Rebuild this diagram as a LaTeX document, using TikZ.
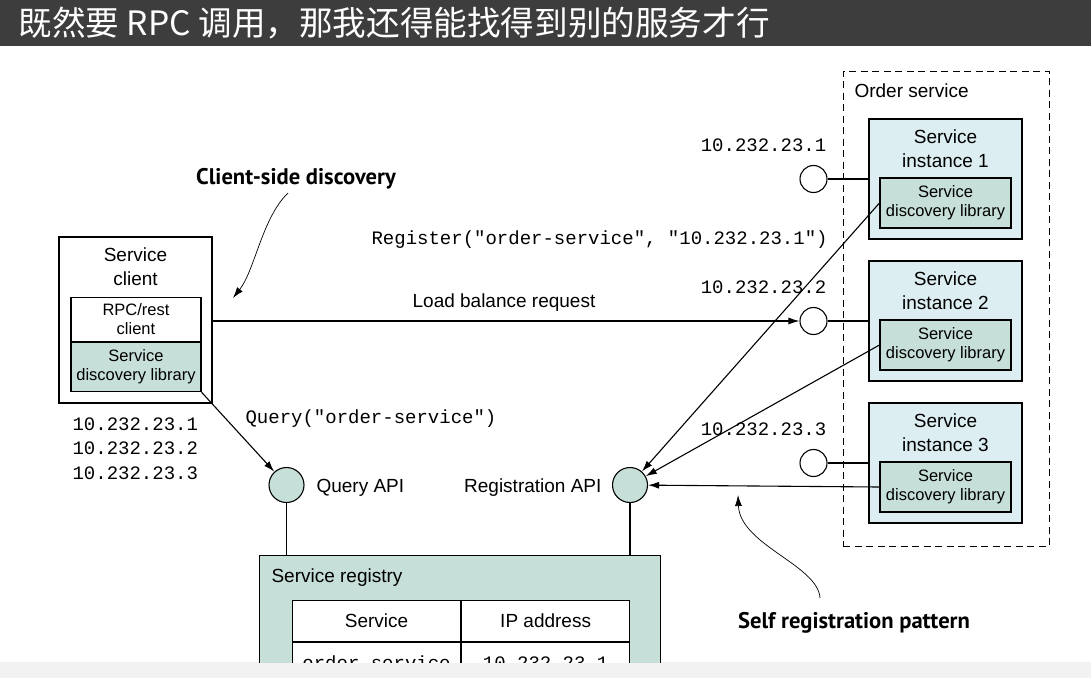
\documentclass[tikz,border=0pt]{standalone}
\usepackage{fontspec}
\setmainfont{Liberation Sans}
\setmonofont{Liberation Mono}
\newfontfamily\cjkfont{Noto Sans CJK SC}
\newfontfamily\calloutfont{PT Sans}
\usetikzlibrary{positioning, arrows.meta}
\definecolor{regteal}{HTML}{C6DFD8}
\definecolor{instblue}{HTML}{DDEEF2}
\definecolor{banner}{HTML}{3D3D3D}

\begin{document}
\begin{tikzpicture} [x=1pt, y=-1pt, line width=1.1pt, node distance = 142pt, on grid,
    txt/.style = {font=\fontsize{19}{24}\selectfont, align=center, inner sep=0pt},
    small/.style = {font=\fontsize{16.5}{19}\selectfont, align=center, inner sep=0pt},
    ip/.style = {font=\ttfamily\fontsize{19}{24}\selectfont, inner sep=0pt},
    callout/.style = {font=\calloutfont\bfseries\fontsize{22.6}{24}\selectfont, inner sep=0pt},
    box/.style = {draw, rectangle, inner sep=0pt},
    inst/.style = {box, fill=instblue, minimum width=153pt, minimum height=120pt},
    lib/.style = {box, small, fill=regteal, minimum width=131pt, minimum height=50pt},
    api/.style = {draw, circle, fill=regteal, minimum size=35pt, inner sep=0pt},
    port/.style = {draw, circle, fill=white, minimum size=27pt, inner sep=0pt},
    arr/.style = {-{Latex[length=11pt, width=7pt]}},
    curvy/.style = {arr, line width=0.7pt}]

    \useasboundingbox (0,0) rectangle (1091,678);
    \fill[banner] (0,0) rectangle (1091,46);
    \node (title) [anchor=west, text=white, inner sep=0pt,
        font=\cjkfont\fontsize{33.6}{36}\selectfont] at (18,23)
        {既然要 RPC 调用，那我还得能找得到别的服务才行};
    \fill[gray!10] (0,662) rectangle (1091,678);

    \begin{scope}
    \clip (0,46) rectangle (1091,662);

    % order service and its instances
    \node (order) [box, dash pattern=on 7pt off 4.5pt, line width=0.9pt,
        minimum width=206pt, minimum height=475pt] at (946,308.5) {};
    \node (ordert) [txt, anchor=base west] at (854,97) {Order service};

    \node (inst1) [inst] at (945.5,179) {}; \node (inst2) [inst, below = of
    inst1] {}; \node (inst3) [inst, below = of inst2] {};

    \foreach \i in {1,2,3} {
        \node (inst\i t) [txt, anchor=north] at ([yshift=-11pt]inst\i.north)
            {Service\\instance \i};
        \node (lib\i) [lib] at ([yshift=-24pt]inst\i.center)
            {Service\\discovery library};
        \node (port\i) [port, left = 132pt of inst\i] {};
        \node (addr\i) [ip, above left = 34pt and 50pt of port\i] {10.232.23.\i};
        \draw (port\i) -- (port\i -| inst\i.west);
    }

    % service client
    \node (client) [box, fill=white, minimum width=153pt, minimum height=166pt]
        at (135.5,320) {};
    \node (clientt) [txt, anchor=north] at ([yshift=-11pt]client.north)
        {Service\\client};
    \node (rpc) [box, small, fill=white, minimum width=130pt, minimum height=44pt,
        anchor=north] at (136,297) {RPC/rest\\client};
    \node (clientlib) [lib, minimum width=130pt, minimum height=49pt,
        anchor=north] at (rpc.south) {Service\\discovery library};
    \foreach \n/\y in {1/430,2/454.5,3/479}
        \node (known\n) [ip, anchor=base west] at (72,\y) {10.232.23.\n};

    % registry
    \node (registry) [box, fill=regteal, minimum width=401pt, minimum height=160pt,
        anchor=north west] at (259,555) {};
    \node (regt) [txt, anchor=base west] at (271,582) {Service registry};
    \node (colsvc) [box, txt, fill=white, minimum width=168pt, minimum height=41pt,
        anchor=north west] at (292,600) {Service};
    \node (colip) [box, txt, fill=white, minimum width=168pt, minimum height=41pt,
        anchor=north west] at (colsvc.north east) {IP address};
    \node (rowsvc) [box, ip, fill=white, minimum width=168pt, minimum height=41pt,
        anchor=north west] at (colsvc.south west) {order-service};
    \node (rowip) [box, ip, fill=white, minimum width=168pt, minimum height=41pt,
        anchor=north west] at (colsvc.south east) {10.232.23.1};

    \node (query) [api] at (286.5,485) {};
    \node (queryt) [txt, anchor=base west] at (316,492) {Query API};
    \node (reg) [api] at (630,485) {};
    \node (regapit) [txt, anchor=base east] at (602,492) {Registration API};
    \draw (query) -- (query |- registry.north);
    \draw (reg) -- (reg |- registry.north);

    % requests
    \draw[arr] (client.east |- port2) -- (port2);
    \node (lbt) [txt, anchor=base] at (504,307) {Load balance request};
    \draw[arr] (clientlib.south east) -- (query);
    \node (queryc) [ip, anchor=base west] at (245,423) {Query("order-service")};
    \node (regc) [ip, anchor=base west] at (371,244)
        {Register("order-service", "10.232.23.1")};
    \foreach \i in {1,2,3}
        \draw[arr] (lib\i.west) -- (reg);

    % callouts
    \node (csd) [callout, anchor=base] at (296,184.5) {Client-side discovery};
    \coordinate (csdfoot) at (288,193); \coordinate (csdtip) at (233,298);
    \draw[curvy] (csdfoot) .. controls (262,218) and (255,270) .. (csdtip);
    \node (srp) [callout, anchor=base] at (854,628) {Self registration pattern};
    \coordinate (srpfoot) at (820,598); \coordinate (srptip) at (738,495);
    \draw[curvy] (srpfoot) .. controls (818,565) and (740,545) .. (srptip);
    \end{scope}

\end{tikzpicture}
\end{document}
